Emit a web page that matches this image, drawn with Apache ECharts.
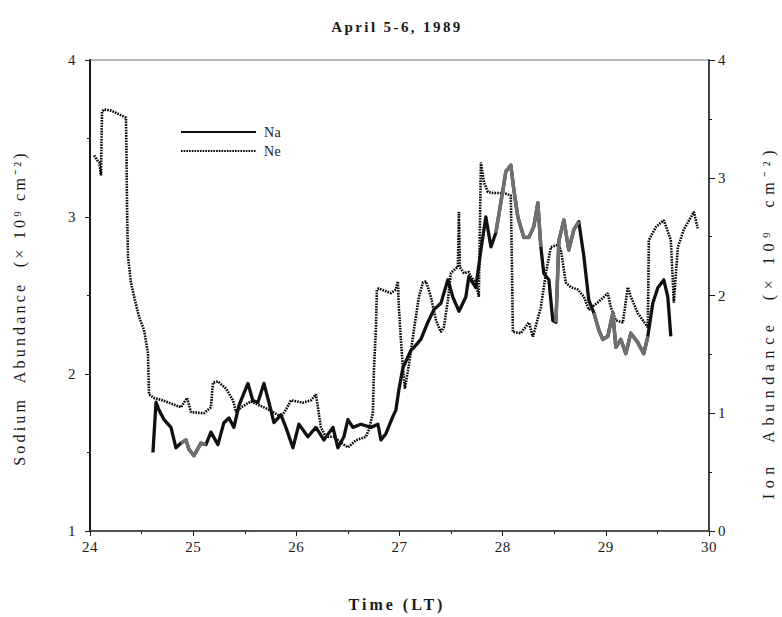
<!DOCTYPE html>
<html>
<head>
<meta charset="utf-8">
<title>April 5-6, 1989</title>
<script src="https://cdn.jsdelivr.net/npm/echarts@6/dist/echarts.min.js"></script>
<style>
  html, body { margin: 0; padding: 0; background: #fff; }
  #chart { width: 782px; height: 617px; }
</style>
</head>
<body>
<div id="chart"></div>
<script>
// Sodium column abundance, [local time (h), 10^9 cm^-2], left axis
const naSeries = [
  [24.610,1.50],[24.640,1.82],[24.669,1.77],[24.717,1.71],[24.785,1.66],[24.833,1.53],
  [24.882,1.56],[24.930,1.58],[24.959,1.52],[25.008,1.48],[25.076,1.56],[25.124,1.55],
  [25.172,1.63],[25.240,1.55],[25.298,1.69],[25.347,1.72],[25.395,1.66],[25.444,1.80],
  [25.531,1.94],[25.579,1.83],[25.628,1.82],[25.686,1.94],[25.734,1.82],[25.783,1.69],
  [25.851,1.74],[25.899,1.66],[25.967,1.53],[26.025,1.68],[26.112,1.60],[26.190,1.66],
  [26.267,1.58],[26.355,1.66],[26.403,1.53],[26.461,1.60],[26.500,1.71],[26.548,1.66],
  [26.626,1.68],[26.723,1.66],[26.791,1.68],[26.820,1.58],[26.868,1.62],[26.936,1.73],
  [26.965,1.77],[26.994,1.90],[27.033,2.04],[27.110,2.15],[27.140,2.17],[27.207,2.22],
  [27.275,2.33],[27.333,2.41],[27.401,2.45],[27.469,2.60],[27.517,2.49],[27.576,2.40],
  [27.643,2.49],[27.672,2.62],[27.740,2.55],[27.789,2.79],[27.837,3.00],[27.886,2.81],
  [27.934,2.90],[28.002,3.17],[28.031,3.29],[28.079,3.33],[28.109,3.17],[28.147,3.00],
  [28.205,2.87],[28.254,2.87],[28.302,2.94],[28.341,3.09],[28.370,2.81],[28.399,2.64],
  [28.448,2.60],[28.486,2.34],[28.516,2.33],[28.545,2.85],[28.593,2.98],[28.641,2.79],
  [28.690,2.92],[28.738,2.97],[28.787,2.75],[28.835,2.47],[28.884,2.39],[28.932,2.28],
  [28.971,2.22],[29.019,2.24],[29.068,2.39],[29.097,2.17],[29.145,2.22],[29.194,2.13],
  [29.242,2.26],[29.310,2.20],[29.368,2.13],[29.407,2.24],[29.455,2.45],[29.504,2.55],
  [29.562,2.60],[29.601,2.49],[29.630,2.24]
];

// Ion (electron) column abundance, [local time (h), 10^9 cm^-2], right axis
const neSeries = [
  [24.040,3.19],[24.070,3.15],[24.090,3.13],[24.107,3.02],[24.116,3.56],[24.136,3.58],
  [24.203,3.57],[24.281,3.54],[24.349,3.51],[24.354,3.18],[24.359,2.75],[24.368,2.33],
  [24.397,2.11],[24.436,1.96],[24.475,1.82],[24.523,1.71],[24.562,1.51],[24.572,1.16],
  [24.620,1.13],[24.736,1.10],[24.882,1.05],[24.940,1.13],[24.979,1.01],[25.105,1.00],
  [25.172,1.05],[25.192,1.26],[25.240,1.27],[25.318,1.21],[25.386,1.11],[25.415,1.01],
  [25.463,1.05],[25.560,1.10],[25.686,1.05],[25.734,1.03],[25.851,0.97],[25.899,1.03],
  [25.948,1.11],[26.064,1.09],[26.141,1.11],[26.190,1.16],[26.209,1.05],[26.238,0.88],
  [26.287,0.80],[26.364,0.80],[26.432,0.75],[26.500,0.71],[26.578,0.77],[26.674,0.80],
  [26.703,0.86],[26.742,1.00],[26.752,1.37],[26.771,1.71],[26.781,2.05],[26.800,2.06],
  [26.917,2.02],[26.965,2.05],[26.984,2.12],[26.994,1.90],[27.014,1.62],[27.033,1.39],
  [27.052,1.21],[27.091,1.41],[27.140,1.71],[27.188,1.99],[27.227,2.11],[27.256,2.12],
  [27.304,1.99],[27.353,1.79],[27.401,1.69],[27.430,1.73],[27.469,1.96],[27.498,2.19],
  [27.547,2.23],[27.566,2.24],[27.576,2.71],[27.585,2.24],[27.624,2.19],[27.672,2.20],
  [27.692,2.16],[27.740,2.11],[27.769,1.99],[27.779,2.56],[27.789,3.13],[27.818,2.96],
  [27.857,2.88],[27.905,2.87],[28.012,2.87],[28.079,2.85],[28.089,2.30],[28.099,1.69],
  [28.176,1.68],[28.254,1.77],[28.293,1.65],[28.370,1.90],[28.419,2.19],[28.467,2.41],
  [28.535,2.43],[28.564,2.39],[28.612,2.11],[28.661,2.07],[28.729,2.05],[28.787,1.99],
  [28.835,1.88],[28.922,1.94],[29.019,2.02],[29.048,1.90],[29.097,1.79],[29.165,1.77],
  [29.213,2.07],[29.242,1.99],[29.310,1.85],[29.407,1.73],[29.417,2.47],[29.484,2.58],
  [29.562,2.64],[29.630,2.47],[29.659,1.94],[29.698,2.41],[29.756,2.56],[29.853,2.71],
  [29.891,2.57]
];

// Stretches of the sodium trace that print in grey
const naGreyRanges = [[24.84, 25.14], [27.92, 28.38], [28.50, 28.78], [28.84, 29.42]];

const timeTicks = { min: 24, max: 30, step: 1 };
const naTicks = { min: 1, max: 4, step: 1 };
const neTicks = { min: 0, max: 4, step: 1 };

const titleText = 'April 5-6, 1989';
const timeName = 'Time (LT)';
const naName = 'Sodium  Abundance  (\u00d7 10\u2079 cm\u207b\u00b2)';
const neName = 'Ion  Abundance  (\u00d7 10\u2079  cm\u207b\u00b2)';

// grey overlay: the Na points that fall inside each grey stretch, broken by gaps
const naGrey = [];
naGreyRanges.forEach(([a, b]) => {
  naSeries.forEach(p => { if (p[0] >= a && p[0] <= b) naGrey.push(p); });
  naGrey.push([b, '-']);
});

const SERIF = 'Liberation Serif, Times New Roman, Times, serif';
const ink = '#1a1a1a';

const chart = echarts.init(document.getElementById('chart'), null, { renderer: 'svg' });

const axisCommon = {
  type: 'value',
  splitLine: { show: false },
  axisTick: { show: true, inside: false, length: 5, lineStyle: { color: ink, width: 1 } },
  minorTick: { show: true, splitNumber: 2, length: 3, lineStyle: { color: ink, width: 1 } },
  axisLabel: { color: ink, fontFamily: SERIF, fontSize: 15 }
};

chart.setOption({
  animation: false,
  backgroundColor: '#fff',
  textStyle: { fontFamily: SERIF },
  grid: { left: 90, right: 73, top: 60, bottom: 86, show: true, borderColor: '#777', borderWidth: 1, backgroundColor: 'transparent' },
  xAxis: Object.assign({}, axisCommon, {
    min: timeTicks.min, max: timeTicks.max, interval: timeTicks.step,
    axisLine: { show: true, onZero: false, lineStyle: { color: '#333', width: 1.5 } },
    axisLabel: Object.assign({}, axisCommon.axisLabel, { margin: 8 })
  }),
  yAxis: [
    Object.assign({}, axisCommon, {
      position: 'left',
      min: naTicks.min, max: naTicks.max, interval: naTicks.step,
      axisLine: { show: true, onZero: false, lineStyle: { color: ink, width: 2 } },
      axisLabel: Object.assign({}, axisCommon.axisLabel, { margin: 14 })
    }),
    Object.assign({}, axisCommon, {
      position: 'right',
      min: neTicks.min, max: neTicks.max, interval: neTicks.step,
      axisLine: { show: true, onZero: false, lineStyle: { color: ink, width: 1.5 } },
      axisTick: Object.assign({}, axisCommon.axisTick, { length: 6 }),
      axisLabel: Object.assign({}, axisCommon.axisLabel, { margin: 9 })
    })
  ],
  legend: {
    data: ['Na', 'Ne'],
    orient: 'vertical',
    left: 175, top: 120,
    itemWidth: 75, itemHeight: 14, itemGap: 5,
    selectedMode: false,
    itemStyle: { opacity: 0 },
    textStyle: { color: ink, fontFamily: SERIF, fontSize: 14, padding: [0, 0, 0, 3] }
  },
  series: [
    {
      name: 'Ne', type: 'line', yAxisIndex: 1, data: neSeries,
      symbol: 'none', showSymbol: false, z: 2,
      lineStyle: { color: '#000', width: 2.6, type: [1.6, 1.1] },
      itemStyle: { color: '#000' }
    },
    {
      name: 'Na', type: 'line', yAxisIndex: 0, data: naSeries,
      symbol: 'none', showSymbol: false, z: 3,
      lineStyle: { color: '#111', width: 3.3, join: 'round' },
      itemStyle: { color: '#111' }
    },
    {
      name: 'Na grey', type: 'line', yAxisIndex: 0, data: naGrey,
      symbol: 'none', showSymbol: false, z: 4, connectNulls: false,
      lineStyle: { color: '#707070', width: 3.5, join: 'round' },
      itemStyle: { color: '#707070' }
    }
  ],
  graphic: [
    { type: 'text', x: 397, y: 27, style: { text: titleText, font: 'bold 15px ' + SERIF, fill: ink, textAlign: 'center', textVerticalAlign: 'middle' } },
    { type: 'text', x: 397, y: 604, style: { text: timeName, font: 'bold 16px ' + SERIF, fill: ink, textAlign: 'center', textVerticalAlign: 'middle' } },
    { type: 'text', x: 19, y: 308, rotation: Math.PI / 2, style: { text: naName, font: '16px ' + SERIF, fill: ink, textAlign: 'center', textVerticalAlign: 'middle' } },
    { type: 'text', x: 768, y: 322, rotation: Math.PI / 2, style: { text: neName, font: '16px ' + SERIF, fill: ink, textAlign: 'center', textVerticalAlign: 'middle' } }
  ]
});

// typewriter-style tracking on the printed labels
const tracking = {};
tracking[titleText] = 2.4;
tracking[timeName] = 3;
tracking[naName] = 3.2;
tracking[neName] = 5.6;
function applyTracking() {
  document.querySelectorAll('#chart svg text').forEach(t => {
    const s = t.textContent;
    t.style.letterSpacing = (tracking[s] !== undefined ? tracking[s] : 0.5) + 'px';
  });
}
chart.on('finished', applyTracking);
applyTracking();
</script>
</body>
</html>
